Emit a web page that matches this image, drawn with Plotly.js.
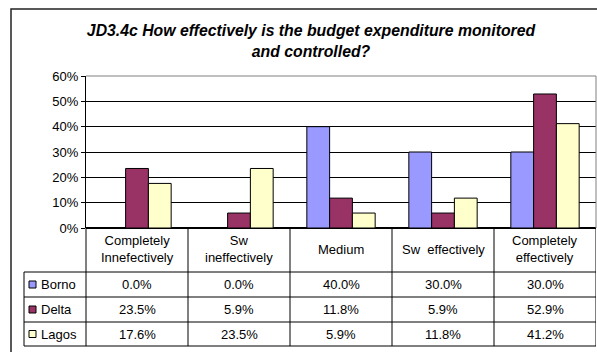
<!DOCTYPE html>
<html>
<head>
<meta charset="utf-8">
<script src="https://cdn.plot.ly/plotly-3.0.1.min.js"></script>
<style>body{margin:0;padding:0;background:#fff;}#chart{width:597px;height:352px;}</style>
</head>
<body>
<div id="chart"></div>
<script>
const categories = ['Completely<br>Innefectively', 'Sw<br>ineffectively', 'Medium', 'Sw\u00a0 effectively', 'Completely<br>effectively'];
const seriesNames = ['Borno', 'Delta', 'Lagos'];
const borno = [0.0, 0.0, 40.0, 30.0, 30.0];
const delta = [23.5, 5.9, 11.8, 5.9, 52.9];
const lagos = [17.6, 23.5, 5.9, 11.8, 41.2];
const yTicks = [0, 10, 20, 30, 40, 50, 60];

const colors = ['#9999FF', '#993366', '#FFFFCC'];
const allSeries = [borno, delta, lagos];
const FONT = 'Arial, "Liberation Sans", sans-serif';
const FS = 13;

// geometry helpers (pixels -> paper)
const L = 86, R = 596, T = 76, B = 228;
const px2x = p => (p - L) / (R - L);
const py2y = p => (B - p) / (B - T);

const idx = categories.map((c, i) => i);
const traces = allSeries.map((s, k) => ({
  type: 'bar', name: seriesNames[k], x: idx, y: s,
  marker: {color: colors[k], line: {color: '#000', width: 1}},
  hoverinfo: 'none'
}));

const annotations = [];
const shapes = [];
// header category labels
categories.forEach((c, i) => {
  annotations.push({xref: 'x', yref: 'paper', x: i, y: py2y(249), text: c, showarrow: false,
    font: {family: FONT, size: FS, color: '#000'}, xanchor: 'center', yanchor: 'middle'});
});
const rowCenters = [284.5, 309.5, 334];
const rowLines = [272, 297, 322, 346];
allSeries.forEach((s, k) => {
  s.forEach((v, i) => {
    annotations.push({xref: 'x', yref: 'paper', x: i, y: py2y(rowCenters[k]), text: v.toFixed(1) + '%', showarrow: false,
      font: {family: FONT, size: FS, color: '#000'}, xanchor: 'center', yanchor: 'middle'});
  });
  annotations.push({xref: 'paper', yref: 'paper', x: px2x(39), y: py2y(rowCenters[k]), text: seriesNames[k], showarrow: false,
    font: {family: FONT, size: FS, color: '#000'}, xanchor: 'left', yanchor: 'middle'});
  shapes.push({type: 'rect', xref: 'paper', yref: 'paper', x0: px2x(29), x1: px2x(36),
    y0: py2y(rowCenters[k] - 3.5), y1: py2y(rowCenters[k] + 3.5), fillcolor: colors[k], line: {color: '#000', width: 1}});
});
// table lines
rowLines.forEach(p => {
  shapes.push({type: 'line', xref: 'paper', yref: 'paper', x0: px2x(24), x1: 1, y0: py2y(p), y1: py2y(p), line: {color: '#000', width: 1}});
});
shapes.push({type: 'line', xref: 'paper', yref: 'paper', x0: px2x(24), x1: px2x(24), y0: py2y(272), y1: py2y(346), line: {color: '#000', width: 1}});
shapes.push({type: 'line', xref: 'paper', yref: 'paper', x0: 0, x1: 0, y0: py2y(228), y1: py2y(346), line: {color: '#000', width: 1}});
for (let i = 0; i < categories.length; i++) {
  shapes.push({type: 'line', xref: 'x', yref: 'paper', x0: i + 0.5, x1: i + 0.5, y0: py2y(228), y1: py2y(346), line: {color: '#000', width: 1}});
}
// plot area top & right border (grey)
shapes.push({type: 'line', xref: 'paper', yref: 'paper', x0: 0, x1: 1, y0: 1, y1: 1, line: {color: '#808080', width: 1}});
shapes.push({type: 'line', xref: 'paper', yref: 'paper', x0: 1, x1: 1, y0: 0, y1: 1, line: {color: '#808080', width: 1}});
// outer chart border
shapes.push({type: 'rect', xref: 'paper', yref: 'paper', x0: px2x(11), x1: px2x(610), y0: py2y(9), y1: py2y(370), line: {color: '#222', width: 1.5}, fillcolor: 'rgba(0,0,0,0)'});

const layout = {
  width: 597, height: 352,
  margin: {l: L, r: 597 - R, t: T, b: 352 - B},
  paper_bgcolor: '#fff', plot_bgcolor: '#fff',
  showlegend: false,
  barmode: 'group', bargap: 0.33, bargroupgap: 0,
  title: {text: '<b><i>JD3.4c How effectively is the budget expenditure monitored<br>and controlled?</i></b>',
    font: {family: FONT, size: 15.8, color: '#000'}, x: 311 / 597, xanchor: 'center', y: 1 - 36 / 352, yanchor: 'middle'},
  xaxis: {range: [-0.5, 4.5], showticklabels: false, ticks: '', showgrid: false, zeroline: false,
    showline: false, fixedrange: true},
  yaxis: {range: [0, 60], tickvals: yTicks, ticktext: yTicks.map(v => v + '%'), ticks: 'outside', ticklen: 4,
    tickcolor: '#000', showline: true, linecolor: '#000', linewidth: 1, showgrid: true, gridcolor: '#000', gridwidth: 1,
    zeroline: true, zerolinecolor: '#000', zerolinewidth: 2,
    tickfont: {family: FONT, size: FS, color: '#000'}, fixedrange: true},
  annotations: annotations,
  shapes: shapes
};
Plotly.newPlot('chart', traces, layout, {displayModeBar: false, staticPlot: true});
</script>
</body>
</html>
